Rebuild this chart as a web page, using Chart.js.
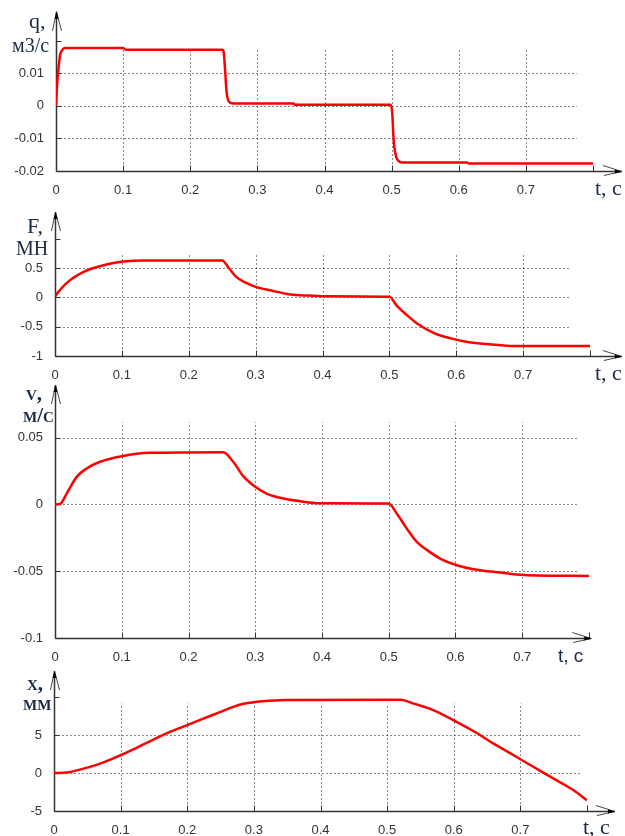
<!DOCTYPE html>
<html>
<head>
<meta charset="utf-8">
<script src="https://cdn.jsdelivr.net/npm/chart.js@4"></script>
<style>
  body { margin: 0; background: #fff; }
  #wrap { position: relative; width: 625px; height: 836px; overflow: hidden; }
  #wrap canvas { position: absolute; left: 0; top: 0; }
</style>
</head>
<body>
<div id="wrap">
  <canvas id="chartQ" width="625" height="836"></canvas>
  <canvas id="chartF" width="625" height="836"></canvas>
  <canvas id="chartV" width="625" height="836"></canvas>
  <canvas id="chartX" width="625" height="836"></canvas>
</div>
<script>
// shared time axis
const tTicks = [0, 0.1, 0.2, 0.3, 0.4, 0.5, 0.6, 0.7, 0.8];
const tTickLabels = ["0", "0.1", "0.2", "0.3", "0.4", "0.5", "0.6", "0.7", ""];

// q, m3/s
const qTime = [0, 0.002, 0.004, 0.006, 0.009, 0.013, 0.1, 0.104, 0.248, 0.2495, 0.252, 0.254, 0.256, 0.26, 0.265, 0.354, 0.356, 0.499, 0.501, 0.5025, 0.504, 0.507, 0.511, 0.516, 0.612, 0.615, 0.8];
const qValues = [0, 0.0075, 0.012, 0.0155, 0.017, 0.0177, 0.0177, 0.0172, 0.0172, 0.0168, 0.0107, 0.0045, 0.002, 0.0009, 0.0007, 0.0007, 0.0003, 0.0003, -0.0025, -0.0086, -0.0126, -0.0158, -0.017, -0.0174, -0.0174, -0.0177, -0.0177];
const qTicks = [-0.02, -0.01, 0, 0.01, 0.02];
const qTickLabels = ["-0.02", "-0.01", "0", "0.01", ""];

// F, MN
const fTime = [0, 0.01, 0.022, 0.037, 0.052, 0.067, 0.082, 0.102, 0.132, 0.25, 0.26, 0.271, 0.285, 0.3, 0.322, 0.352, 0.38, 0.4, 0.5, 0.511, 0.527, 0.542, 0.567, 0.592, 0.617, 0.65, 0.687, 0.8];
const fValues = [0.02, 0.16, 0.29, 0.4, 0.48, 0.53, 0.575, 0.61, 0.63, 0.63, 0.5, 0.35, 0.25, 0.18, 0.12, 0.05, 0.03, 0.02, 0.01, -0.14, -0.31, -0.45, -0.61, -0.7, -0.76, -0.8, -0.83, -0.83];
const fTicks = [-1, -0.5, 0, 0.5, 1];
const fTickLabels = ["-1", "-0.5", "0", "0.5", ""];

// v, m/s
const vTime = [0, 0.0075, 0.0175, 0.0325, 0.0475, 0.0675, 0.1, 0.142, 0.252, 0.267, 0.282, 0.3, 0.317, 0.342, 0.367, 0.397, 0.5, 0.512, 0.527, 0.542, 0.557, 0.577, 0.602, 0.627, 0.667, 0.702, 0.8];
const vValues = [0, 0.0003, 0.0082, 0.0207, 0.027, 0.032, 0.0362, 0.0387, 0.0392, 0.032, 0.0212, 0.0132, 0.0082, 0.0045, 0.0025, 0.001, 0.0007, -0.0068, -0.018, -0.028, -0.034, -0.0405, -0.0455, -0.0485, -0.051, -0.0528, -0.0535];
const vTicks = [-0.1, -0.05, 0, 0.05];
const vTickLabels = ["-0.1", "-0.05", "0", "0.05"];

// x, mm
const xTime = [0, 0.019, 0.044, 0.069, 0.099, 0.124, 0.149, 0.174, 0.2, 0.224, 0.249, 0.269, 0.284, 0.302, 0.319, 0.349, 0.52, 0.54, 0.57, 0.6, 0.63, 0.66, 0.69, 0.72, 0.75, 0.78, 0.8];
const xValues = [0, 0.06, 0.57, 1.23, 2.3, 3.3, 4.4, 5.4, 6.3, 7.15, 8.0, 8.7, 9.1, 9.35, 9.47, 9.6, 9.65, 9.13, 8.25, 6.93, 5.49, 3.87, 2.33, 0.79, -0.74, -2.28, -3.6];
const xTicks = [-5, 0, 5, 10];
const xTickLabels = ["-5", "0", "5", ""];

const SERIF = '"Liberation Serif", "Times New Roman", serif';
const SANS = '"Liberation Sans", Arial, sans-serif';
const AXIS_H = 30;

// axes, dotted grid, arrows and captions drawn around the plot
const framePlugin = {
    id: "frame",
    beforeDatasetsDraw(chart, args, o) {
        const ctx = chart.ctx;
        const xs = chart.scales.x;
        const ys = chart.scales.y;
        const area = chart.chartArea;
        const x0 = Math.round(xs.getPixelForValue(0)) + 0.5;
        const yb = Math.round(area.bottom) + 0.5;

        ctx.save();
        // dotted grid
        ctx.strokeStyle = "#111";
        ctx.lineWidth = 1;
        ctx.setLineDash([1, 3]);
        const gx = xs.getPixelForValue(o.gridRight);
        o.yTicks.forEach(function (v) {
            if (v <= ys.min || v > o.gridTop) return;
            const y = Math.round(ys.getPixelForValue(v)) + 0.5;
            ctx.beginPath();
            ctx.moveTo(x0 + 4, y);
            ctx.lineTo(gx, y);
            ctx.stroke();
        });
        const gy = ys.getPixelForValue(o.gridTop);
        tTicks.forEach(function (v) {
            if (v === 0 || v >= 0.8) return;
            const x = Math.round(xs.getPixelForValue(v)) + 0.5;
            ctx.beginPath();
            ctx.moveTo(x, yb - 4);
            ctx.lineTo(x, gy);
            ctx.stroke();
        });
        ctx.setLineDash([]);

        // axis lines
        const xe = xs.getPixelForValue(o.arrowEnd);
        const yt = area.top;
        ctx.strokeStyle = "#333";
        ctx.lineWidth = 1.5;
        ctx.beginPath();
        ctx.moveTo(x0, yb);
        ctx.lineTo(xe, yb);
        ctx.moveTo(x0, yb);
        ctx.lineTo(x0, yt);
        ctx.stroke();

        // inward ticks
        ctx.lineWidth = 1;
        tTicks.forEach(function (v) {
            const x = Math.round(xs.getPixelForValue(v)) + 0.5;
            ctx.beginPath();
            ctx.moveTo(x, yb);
            ctx.lineTo(x, yb - 6);
            ctx.stroke();
        });
        o.yTicks.forEach(function (v) {
            const y = Math.round(ys.getPixelForValue(v)) + 0.5;
            ctx.beginPath();
            ctx.moveTo(x0, y);
            ctx.lineTo(x0 + 5, y);
            ctx.stroke();
        });

        // arrow heads
        ctx.strokeStyle = "#444";
        ctx.beginPath();
        ctx.moveTo(x0 - 4, yt + 19);
        ctx.lineTo(x0, yt);
        ctx.lineTo(x0 + 5, yt + 19);
        ctx.moveTo(xe - 19, yb - 6);
        ctx.lineTo(xe, yb);
        ctx.lineTo(xe - 18, yb + 4);
        ctx.stroke();
        ctx.fillStyle = "#000";
        ctx.beginPath();
        ctx.moveTo(x0, yt);
        ctx.lineTo(x0 - 2, yt + 7);
        ctx.lineTo(x0 + 2, yt + 7);
        ctx.closePath();
        ctx.moveTo(xe, yb);
        ctx.lineTo(xe - 7, yb - 2);
        ctx.lineTo(xe - 7, yb + 2);
        ctx.closePath();
        ctx.fill();
        ctx.restore();
    },
    afterDraw(chart, args, o) {
        const ctx = chart.ctx;
        ctx.save();
        ctx.fillStyle = "#1b2a44";
        ctx.textBaseline = "alphabetic";
        o.captions.forEach(function (c) {
            ctx.font = c.font;
            ctx.fillText(c.text, c.x, c.y);
        });
        ctx.restore();
    },
};

function makePanel(id, time, values, yTicks, yLabels, p) {
    const data = time.map(function (t, i) {
        return { x: t, y: values[i] };
    });
    return new Chart(document.getElementById(id), {
        type: "line",
        data: {
            datasets: [
                {
                    data: data,
                    borderColor: "#ff0000",
                    borderWidth: 2.5,
                    pointRadius: 0,
                    fill: false,
                    cubicInterpolationMode: "monotone",
                },
            ],
        },
        options: {
            responsive: false,
            animation: false,
            events: [],
            devicePixelRatio: 1,
            layout: {
                padding: {
                    left: 0,
                    top: p.top,
                    right: 625 - p.right,
                    bottom: 836 - p.bottom - AXIS_H,
                },
            },
            scales: {
                x: {
                    type: "linear",
                    min: 0,
                    max: 0.8,
                    grid: { display: false },
                    border: { display: false },
                    afterBuildTicks: function (s) {
                        s.ticks = tTicks.map(function (v) { return { value: v }; });
                    },
                    afterFit: function (s) { s.height = AXIS_H; },
                    ticks: {
                        autoSkip: false,
                        maxRotation: 0,
                        padding: 4,
                        color: "#333",
                        font: { family: SANS, size: 13 },
                        callback: function (v, i) { return tTickLabels[i]; },
                    },
                },
                y: {
                    type: "linear",
                    min: p.yMin,
                    max: p.yMax,
                    grid: { display: false },
                    border: { display: false },
                    afterBuildTicks: function (s) {
                        s.ticks = yTicks.map(function (v) { return { value: v }; });
                    },
                    afterFit: function (s) { s.width = p.left; },
                    ticks: {
                        padding: 4,
                        color: "#333",
                        font: { family: SANS, size: 13 },
                        callback: function (v, i) { return yLabels[i]; },
                    },
                },
            },
            plugins: {
                legend: { display: false },
                tooltip: { enabled: false },
                frame: {
                    yTicks: yTicks,
                    gridTop: p.gridTop,
                    gridRight: p.gridRight,
                    arrowEnd: p.arrowEnd,
                    captions: p.captions,
                },
            },
        },
        plugins: [framePlugin],
    });
}

makePanel("chartQ", qTime, qValues, qTicks, qTickLabels, {
    left: 56, right: 593, top: 10, bottom: 171,
    yMin: -0.02, yMax: 0.0288,
    gridTop: 0.0176, gridRight: 0.776, arrowEnd: 0.843,
    captions: [
        { text: "q,", x: 29, y: 28, font: "22px " + SERIF },
        { text: "м3/с", x: 12, y: 52, font: "20px " + SERIF },
        { text: "t, с", x: 595, y: 195, font: "22px " + SERIF },
    ],
});

makePanel("chartF", fTime, fValues, fTicks, fTickLabels, {
    left: 55, right: 590, top: 212, bottom: 356,
    yMin: -1, yMax: 1.456,
    gridTop: 0.75, gridRight: 0.77, arrowEnd: 0.8476,
    captions: [
        { text: "F,", x: 27, y: 233, font: "22px " + SERIF },
        { text: "МН", x: 16, y: 255, font: "20px " + SERIF },
        { text: "t, с", x: 595, y: 380, font: "22px " + SERIF },
    ],
});

makePanel("chartV", vTime, vValues, vTicks, vTickLabels, {
    left: 55, right: 589, top: 385, bottom: 638,
    yMin: -0.1, yMax: 0.0895,
    gridTop: 0.0617, gridRight: 0.783, arrowEnd: 0.8034,
    captions: [
        { text: "v,", x: 26, y: 400, font: "small-caps bold 21px " + SERIF },
        { text: "м/с", x: 23, y: 422, font: "small-caps bold 21px " + SERIF },
        { text: "t, с", x: 558, y: 662, font: "19px " + SANS },
    ],
});

makePanel("chartX", xTime, xValues, xTicks, xTickLabels, {
    left: 54, right: 587, top: 671, bottom: 811,
    yMin: -5, yMax: 13.42,
    gridTop: 9.17, gridRight: 0.79, arrowEnd: 0.842,
    captions: [
        { text: "x,", x: 27, y: 690, font: "small-caps bold 21px " + SERIF },
        { text: "мм", x: 23, y: 710, font: "small-caps bold 21px " + SERIF },
        { text: "t, с", x: 583, y: 834, font: "22px " + SERIF },
    ],
});
</script>
</body>
</html>
